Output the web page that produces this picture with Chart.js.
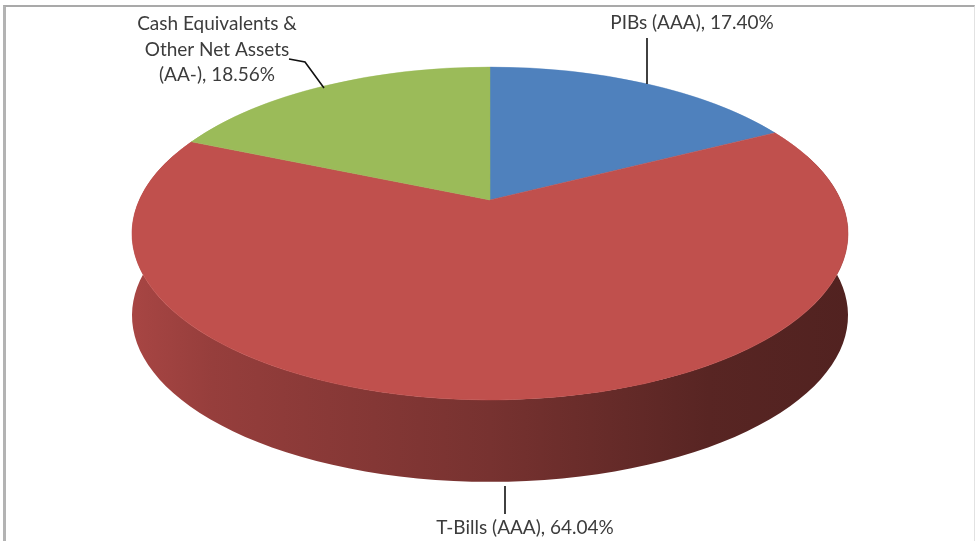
<!DOCTYPE html>
<html>
<head>
<meta charset="utf-8">
<script src="https://cdn.jsdelivr.net/npm/chart.js@4/dist/chart.umd.min.js"></script>
<style>
  html, body { margin: 0; padding: 0; background: #fff; overflow: hidden; }
  #frame {
    position: absolute; left: 3px; top: 5px; width: 968px; height: 560px;
    border-top: 2px solid #a9a9a9; border-left: 3px solid #b3b3b3; border-right: 1px solid #e2e2e2;
  }
  #chart { position: absolute; left: 0; top: 0; }
</style>
</head>
<body>
<div id="frame"></div>
<canvas id="chart" width="975" height="541"></canvas>
<script>
// Portfolio composition
const categories = ["PIBs (AAA)", "T-Bills (AAA)", "Cash Equivalents & Other Net Assets (AA-)"];
const shares = [17.40, 64.04, 18.56];
const sliceColors = ["#4f81bd", "#c0504d", "#9bbb59"];

// perspective view of the pie on the page (u,v = unit disc coords, v>0 towards viewer)
const VIEW = { cx: 490, p: 200, q: 119.5, k: 0.201, A: 350.7, kx: 0.201, depth: 82 };

// label text centres and their leader lines
const labelLayout = [
    { x: 692, y: 23, wrap: 400, leader: [[647, 38], [647, 84]] },
    { x: 525, y: 528, wrap: 400, leader: [[505, 486], [505, 514]] },
    { x: 217, y: 24, wrap: 170, leader: [[289, 59], [305, 62], [324, 88]] }
];

const labelFont = '19px Lato, "Liberation Sans", sans-serif';
const lineHeight = 25.5;


function toScreen(u, v) {
    return [
        VIEW.cx + u * VIEW.A / (1 - VIEW.kx * v),
        (VIEW.p + VIEW.q * v) / (1 - VIEW.k * v)
    ];
}

function vAt(y) {
    return (y - VIEW.p) / (VIEW.q + VIEW.k * y);
}

function shade(hex, f) {
    const n = parseInt(hex.slice(1), 16);
    const r = Math.round(((n >> 16) & 255) * f);
    const g = Math.round(((n >> 8) & 255) * f);
    const b = Math.round((n & 255) * f);
    return "rgb(" + r + "," + g + "," + b + ")";
}

function sideGradient(ctx, hex) {
    const left = toScreen(-1, VIEW.kx)[0], right = toScreen(1, VIEW.kx)[0];
    const grad = ctx.createLinearGradient(left, 0, right, 0);
    grad.addColorStop(0, shade(hex, 0.88));
    grad.addColorStop(0.12, shade(hex, 0.78));
    grad.addColorStop(0.5, shade(hex, 0.62));
    grad.addColorStop(0.8, shade(hex, 0.46));
    grad.addColorStop(1, shade(hex, 0.42));
    return grad;
}

function wrapText(ctx, text, maxWidth) {
    const words = text.split(" ");
    const lines = [];
    let line = "";
    words.forEach(w => {
        const test = line ? line + " " + w : w;
        if (ctx.measureText(test).width > maxWidth && line) {
            lines.push(line);
            line = w;
        } else {
            line = test;
        }
    });
    lines.push(line);
    return lines;
}

function drawSides(ctx, arcs) {
    arcs.forEach((arc, i) => {
        [0, -2 * Math.PI].forEach(shift => {
            const a = Math.max(arc.startAngle + shift, -0.3);
            const b = Math.min(arc.endAngle + shift, Math.PI + 0.3);
            if (b <= a) return;
            const steps = 90;
            const top = [];
            for (let s = 0; s <= steps; s++) {
                const t = a + (b - a) * s / steps;
                top.push(toScreen(Math.cos(t), Math.sin(t)));
            }
            ctx.beginPath();
            top.forEach((pt, j) => j ? ctx.lineTo(pt[0], pt[1]) : ctx.moveTo(pt[0], pt[1]));
            for (let j = top.length - 1; j >= 0; j--) {
                ctx.lineTo(top[j][0], top[j][1] + VIEW.depth);
            }
            ctx.closePath();
            ctx.fillStyle = sideGradient(ctx, sliceColors[i]);
            ctx.fill();
        });
    });
}

// top face: the library's arcs, drawn row by row with a perspective stretch
function drawTop(chart, arcs) {
    const ctx = chart.ctx;
    const R = arcs[0].outerRadius, ox = arcs[0].x, oy = arcs[0].y;
    const yTop = Math.floor(toScreen(0, -1)[1]) - 1;
    const yBot = Math.ceil(toScreen(0, 1)[1]) + 1;
    for (let ya = yTop; ya < yBot; ya++) {
        const yb = ya + 1;
        const va = vAt(ya), vb = vAt(yb), vm = vAt(ya + 0.5);
        const sx = VIEW.A / (1 - VIEW.kx * vm) / R;
        const sy = (yb - ya) / ((vb - va) * R);
        ctx.save();
        ctx.beginPath();
        ctx.rect(0, ya, chart.width, 1);
        ctx.clip();
        ctx.translate(VIEW.cx, ya);
        ctx.scale(sx, sy);
        ctx.translate(-ox, -(oy + va * R));
        arcs.forEach(a => a.draw(ctx));
        ctx.restore();
    }
}

function drawLabels(chart) {
    const ctx = chart.ctx;
    const arcs = chart.getDatasetMeta(0).data;
    ctx.save();
    ctx.font = labelFont;
    ctx.fillStyle = "#3c3c3c";
    ctx.strokeStyle = "#111";
    ctx.lineWidth = 1.6;
    ctx.textAlign = "center";
    ctx.textBaseline = "middle";

    arcs.forEach((arc, i) => {
        const lay = labelLayout[i];
        const text = categories[i] + ", " + shares[i].toFixed(2) + "%";
        const lines = wrapText(ctx, text, lay.wrap);
        lines.forEach((ln, k) => ctx.fillText(ln, lay.x, lay.y + k * lineHeight));

        ctx.beginPath();
        lay.leader.forEach((p, j) => j ? ctx.lineTo(p[0], p[1]) : ctx.moveTo(p[0], p[1]));
        ctx.stroke();
    });
    ctx.restore();
}

const pie3d = {
    id: "pie3d",
    beforeDatasetsDraw(chart) {
        const arcs = chart.getDatasetMeta(0).data;
        drawSides(chart.ctx, arcs);
        drawTop(chart, arcs);
        return false;
    },
    afterDraw(chart) {
        drawLabels(chart);
    }
};

new Chart(document.getElementById("chart"), {
    type: "pie",
    data: {
        labels: categories,
        datasets: [{
            data: shares,
            backgroundColor: sliceColors,
            borderColor: sliceColors,
            borderWidth: 0.5
        }]
    },
    options: {
        responsive: false,
        animation: false,
        layout: { padding: 20 },
        plugins: {
            legend: { display: false },
            tooltip: { enabled: false }
        }
    },
    plugins: [pie3d]
});
</script>
</body>
</html>
